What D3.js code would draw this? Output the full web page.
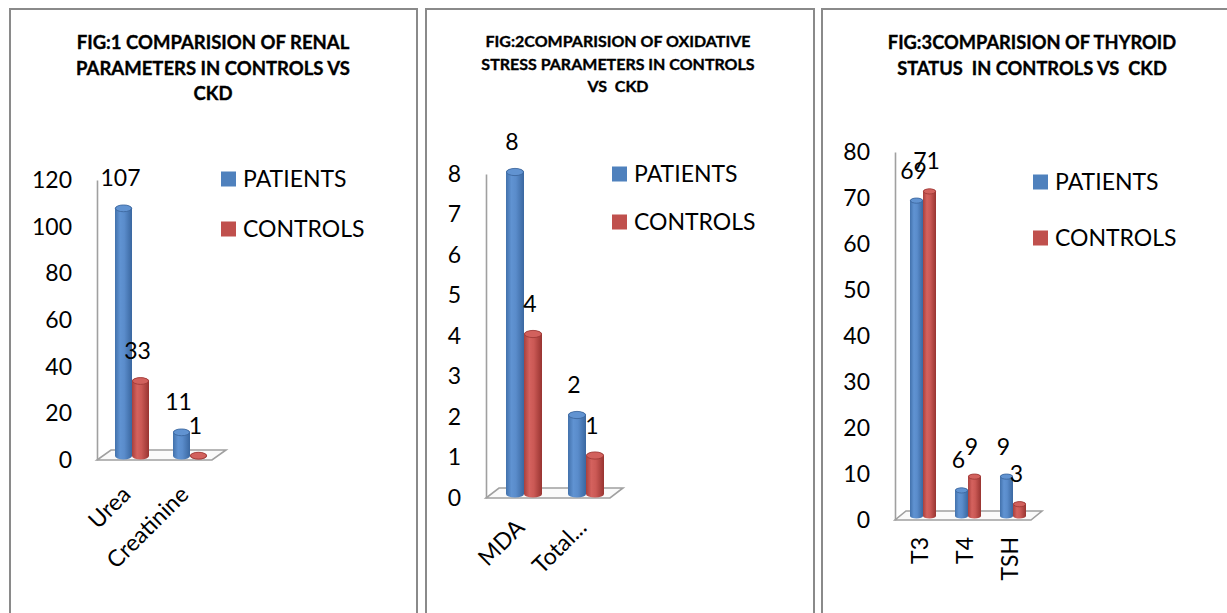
<!DOCTYPE html>
<html>
  <head>
    <meta charset="utf-8" />
    <title>CKD comparison charts</title>
    <script src="https://d3js.org/d3.v7.min.js"></script>
    <style>
      body { margin: 0; background: #fff; }
      text { font-family: Lato, "Open Sans", sans-serif; fill: #000; }
    </style>
  </head>
  <body>
    <svg id="chart" width="1227" height="613"></svg>
    <script>

        var seriesNames = ["PATIENTS", "CONTROLS"];

        // fig 1 - renal
        var renalCategories = ["Urea", "Creatinine"];
        var renalPatients = [107, 11];
        var renalControls = [33, 1];
        var renalTicks = [0, 20, 40, 60, 80, 100, 120];

        // fig 2 - oxidative stress
        var oxCategories = ["MDA", "Total..."];
        var oxPatients = [8, 2];
        var oxControls = [4, 1];
        var oxTicks = [0, 1, 2, 3, 4, 5, 6, 7, 8];

        // fig 3 - thyroid
        var thyCategories = ["T3", "T4", "TSH"];
        var thyPatients = [69, 6, 9];
        var thyControls = [71, 9, 3];
        var thyTicks = [0, 10, 20, 30, 40, 50, 60, 70, 80];

        var svg = d3.select("#chart");
        var defs = svg.append("defs");

        function cylGradient(id, stops) {
            var g = defs.append("linearGradient").attr("id", id)
              .attr("x1", "0%").attr("x2", "100%").attr("y1", "0%").attr("y2", "0%");
            stops.forEach(function(s) {
                g.append("stop").attr("offset", s[0]).attr("stop-color", s[1]);
            });
        }
        cylGradient("gBlue", [["0%", "#4271ab"], ["30%", "#6093d2"], ["55%", "#5a8ccb"], ["100%", "#3a67a0"]]);
        cylGradient("gRed", [["0%", "#a8403d"], ["30%", "#d4625e"], ["55%", "#cb5955"], ["100%", "#983431"]]);

        var fills = ["url(#gBlue)", "url(#gRed)"];
        var capFills = ["#6193d1", "#d2615d"];
        var capStrokes = ["#3a6399", "#9a3633"];
        var legendColors = ["#4f81bd", "#c0504d"];

        // panel frames
        var frames = [
            { x: 10, w: 407 },
            { x: 426, w: 388 },
            { x: 822, w: 420 }
        ];
        svg.selectAll("rect.frame").data(frames).enter().append("rect")
          .attr("class", "frame")
          .attr("x", function(d) { return d.x; })
          .attr("y", 9)
          .attr("width", function(d) { return d.w; })
          .attr("height", 620)
          .attr("fill", "none")
          .attr("stroke", "#8a8a8a")
          .attr("stroke-width", 2);

        function drawPanel(p) {
            var g = svg.append("g");

            // title
            g.append("text")
              .attr("text-anchor", "middle")
              .style("font-weight", "bold")
              .style("font-size", p.titleSize + "px")
              .style("white-space", "pre")
              .attr("stroke", "#000")
              .attr("stroke-width", 0.35)
              .selectAll("tspan").data(p.title).enter().append("tspan")
              .attr("x", p.titleX)
              .attr("y", function(d, i) { return p.titleY + i * p.titleGap; })
              .text(function(d) { return d; });

            var y = d3.scaleLinear().domain([0, p.ticks[p.ticks.length - 1]]).range([p.y0, p.yTop]);
            var x = d3.scaleBand().domain(p.categories).range(p.xRange);
            var y0 = p.y0;

            // floor
            var f = p.floor;
            g.append("path")
              .attr("d", "M" + p.axisX + "," + y0 + "L" + f.x1 + "," + y0 +
                   "L" + (f.x1 + f.dx) + "," + (y0 - f.dy) + "L" + (p.axisX + f.dx) + "," + (y0 - f.dy) + "Z")
              .attr("fill", "#fafafa")
              .attr("stroke", "#a0a0a0")
              .attr("stroke-width", 1.6);

            // y axis
            var axis = g.append("g")
              .attr("transform", "translate(" + p.axisX + ",0)")
              .call(d3.axisLeft(y).tickValues(p.ticks).tickSize(0).tickSizeOuter(0).tickPadding(25));
            axis.select(".domain").attr("stroke", "#a0a0a0").attr("stroke-width", 1.6);
            axis.selectAll("text").style("font-size", "23px").style("font-family", "Lato, sans-serif").attr("fill", "#000");

            // bars
            var bars = [];
            p.categories.forEach(function(c, i) {
                [p.patients[i], p.controls[i]].forEach(function(v, s) {
                    bars.push({ cat: c, s: s, v: v });
                });
            });
            var bw = p.barW;
            var rx = bw / 2, ry = Math.max(2.5, bw * 0.2);
            var base = y0 - 4;
            function bx(d) { return x(d.cat) + x.bandwidth() / 2 - bw + d.s * bw; }
            function topY(d) { return Math.min(y(d.v) - 2, base); }

            g.selectAll("path.cyl").data(bars).enter().append("path")
              .attr("class", "cyl")
              .attr("d", function(d) {
                  var l = bx(d), top = topY(d);
                  return "M" + l + "," + top + "L" + l + "," + base +
                    "A" + rx + "," + ry + " 0 0 0 " + (l + bw) + "," + base +
                    "L" + (l + bw) + "," + top +
                    "A" + rx + "," + ry + " 0 0 0 " + l + "," + top + "Z";
              })
              .attr("fill", function(d) { return fills[d.s]; });

            g.selectAll("ellipse.cap").data(bars).enter().append("ellipse")
              .attr("class", "cap")
              .attr("cx", function(d) { return bx(d) + rx; })
              .attr("cy", topY)
              .attr("rx", rx - 0.5)
              .attr("ry", ry)
              .attr("fill", function(d) { return capFills[d.s]; })
              .attr("stroke", function(d) { return capStrokes[d.s]; })
              .attr("stroke-width", 0.8);

            // value labels
            g.selectAll("text.val").data(bars).enter().append("text")
              .attr("class", "val")
              .attr("x", function(d) { return bx(d) + rx - 3; })
              .attr("y", function(d) { return y(d.v) - 24; })
              .attr("text-anchor", "middle")
              .style("font-size", "23px")
              .text(function(d) { return d.v; });

            // category labels
            g.selectAll("text.cat").data(p.categories).enter().append("text")
              .attr("class", "cat")
              .attr("text-anchor", "end")
              .style("font-size", "23px")
              .attr("transform", function(d) {
                  return "translate(" + (x(d) + x.bandwidth() / 2 + p.catDx) + "," + (y0 + p.catDy) + ") rotate(" + p.catRot + ")";
              })
              .text(function(d) { return d; });

            // legend
            var leg = g.selectAll("g.leg").data(seriesNames).enter().append("g")
              .attr("class", "leg")
              .attr("transform", function(d, i) { return "translate(" + p.legX + "," + (p.legY + i * p.legGap) + ")"; });
            leg.append("rect")
              .attr("x", 0).attr("y", -7.5).attr("width", 15).attr("height", 15)
              .attr("fill", function(d, i) { return legendColors[i]; });
            leg.append("text")
              .attr("x", 22).attr("y", 8)
              .style("font-size", "23px")
              .text(function(d) { return d; });
        }

        drawPanel({
            title: ["FIG:1 COMPARISION OF RENAL", "PARAMETERS IN CONTROLS VS", "CKD"],
            titleX: 213, titleY: 49, titleGap: 25.5, titleSize: 18.5,
            categories: renalCategories, patients: renalPatients, controls: renalControls, ticks: renalTicks,
            y0: 460, yTop: 180, axisX: 97, xRange: [103, 219], barW: 17,
            floor: { x1: 212, dx: 14, dy: 10 },
            catDx: 0, catDy: 36, catRot: -45,
            legX: 221, legY: 179, legGap: 50
        });

        drawPanel({
            title: ["FIG:2COMPARISION OF OXIDATIVE", "STRESS PARAMETERS IN CONTROLS", "VS  CKD"],
            titleX: 618, titleY: 47, titleGap: 22.5, titleSize: 16,
            categories: oxCategories, patients: oxPatients, controls: oxControls, ticks: oxTicks,
            y0: 498, yTop: 174, axisX: 486, xRange: [493, 617], barW: 18,
            floor: { x1: 610, dx: 13, dy: 10 },
            catDx: 2, catDy: 31, catRot: -45,
            legX: 612, legY: 174, legGap: 48
        });

        drawPanel({
            title: ["FIG:3COMPARISION OF THYROID", "STATUS  IN CONTROLS VS  CKD"],
            titleX: 1032, titleY: 49, titleGap: 26, titleSize: 18.3,
            categories: thyCategories, patients: thyPatients, controls: thyControls, ticks: thyTicks,
            y0: 520, yTop: 152, axisX: 895, xRange: [900.5, 1035.5], barW: 13,
            floor: { x1: 1031, dx: 11, dy: 9 },
            catDx: 5, catDy: 17, catRot: -90,
            legX: 1033, legY: 182, legGap: 56
        });

    </script>
  </body>
</html>
